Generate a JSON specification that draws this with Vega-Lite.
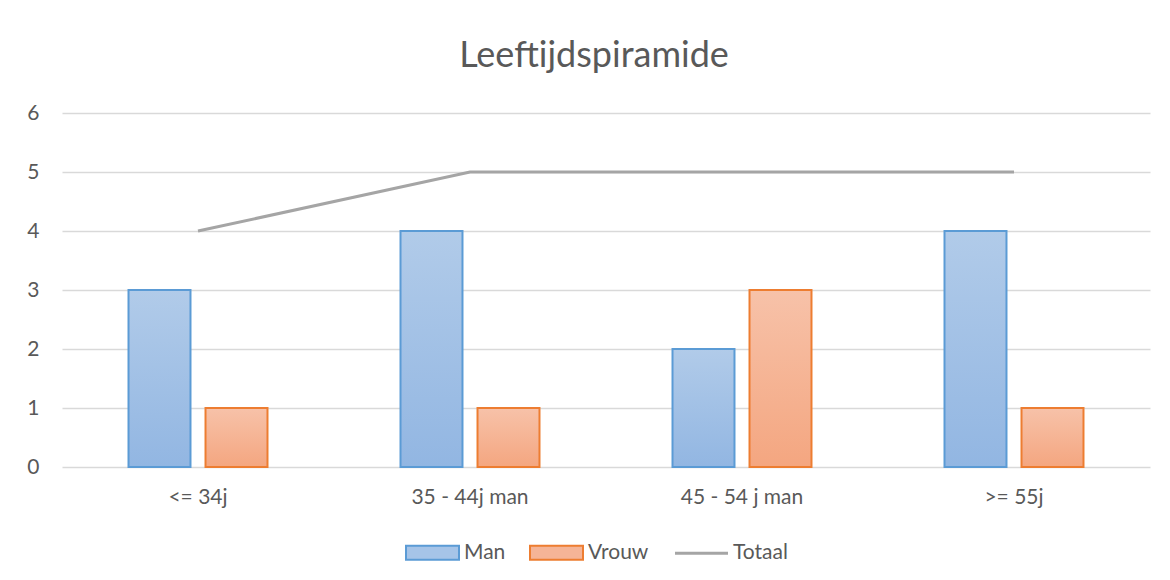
{
  "$schema": "https://vega.github.io/schema/vega-lite/v6.json",
  "width": 1088,
  "height": 354,
  "autosize": {"type": "none"},
  "padding": {"left": 62, "top": 113, "right": 20, "bottom": 113},
  "background": "white",
  "config": {"view": {"stroke": null}, "font": "Lato"},
  "title": {"text": "Leeftijdspiramide", "font": "Lato", "fontSize": 36, "fontWeight": "normal", "color": "#595959", "anchor": "middle", "dx": -12, "offset": 27},
  "data": {"values": [
    {"category": "<= 34j", "series": "Man", "value": 3},
    {"category": "<= 34j", "series": "Vrouw", "value": 1},
    {"category": "<= 34j", "series": "Totaal", "value": 4},
    {"category": "35 - 44j man", "series": "Man", "value": 4},
    {"category": "35 - 44j man", "series": "Vrouw", "value": 1},
    {"category": "35 - 44j man", "series": "Totaal", "value": 5},
    {"category": "45 - 54 j man", "series": "Man", "value": 2},
    {"category": "45 - 54 j man", "series": "Vrouw", "value": 3},
    {"category": "45 - 54 j man", "series": "Totaal", "value": 5},
    {"category": ">= 55j", "series": "Man", "value": 4},
    {"category": ">= 55j", "series": "Vrouw", "value": 1},
    {"category": ">= 55j", "series": "Totaal", "value": 5}
  ]},
  "encoding": {
    "x": {"field": "category", "type": "nominal", "sort": ["<= 34j", "35 - 44j man", "45 - 54 j man", ">= 55j"],
      "scale": {"paddingInner": 0.489, "paddingOuter": 0.2445},
      "axis": {"title": null, "labelAngle": 0, "domain": false, "ticks": false, "labelPadding": 19, "labelFont": "Lato", "labelFontSize": 21, "labelColor": "#595959"}},
    "y": {"field": "value", "type": "quantitative", "scale": {"domain": [0, 6]},
      "axis": {"title": null, "values": [0, 1, 2, 3, 4, 5, 6], "grid": true, "gridColor": "#D9D9D9", "gridWidth": 1.5, "domain": false, "ticks": false, "labelPadding": 23, "labelFont": "Lato", "labelFontSize": 21, "labelColor": "#595959"}},
    "stroke": {"field": "series", "type": "nominal",
      "scale": {"domain": ["Man", "Vrouw", "Totaal"], "range": ["#5B9BD5", "#ED7D31", "#A5A5A5"]},
      "legend": {"title": null, "orient": "none", "legendX": 360, "legendY": 429, "direction": "horizontal",
        "symbolSize": 2809, "labelOffset": 21, "columnPadding": 20, "labelFont": "Lato", "labelFontSize": 21, "labelColor": "#595959",
        "encode": {"symbols": {"update": {
          "shape": {"signal": "datum.value === 'Totaal' ? 'stroke' : 'M-1,-0.264H1V0.264H-1Z'"},
          "fill": {"signal": "datum.value === 'Man' ? '#A6C4E8' : datum.value === 'Vrouw' ? '#F5B497' : 'transparent'"},
          "strokeWidth": {"signal": "datum.value === 'Totaal' ? 3 : 2"},
          "opacity": {"value": 1}
        }}}}}
  },
  "layer": [
    {
      "transform": [{"filter": "datum.series === 'Man'"}],
      "mark": {"type": "bar", "strokeWidth": 2,
        "fill": {"gradient": "linear", "x1": 0, "y1": 0, "x2": 0, "y2": 1, "stops": [{"offset": 0, "color": "#B1CBE9"}, {"offset": 1, "color": "#92B6E2"}]}},
      "encoding": {"xOffset": {"field": "series", "scale": {"domain": ["Man", "Vrouw"], "paddingInner": 0.195, "paddingOuter": 0}}}
    },
    {
      "transform": [{"filter": "datum.series === 'Vrouw'"}],
      "mark": {"type": "bar", "strokeWidth": 2,
        "fill": {"gradient": "linear", "x1": 0, "y1": 0, "x2": 0, "y2": 1, "stops": [{"offset": 0, "color": "#F7C2A9"}, {"offset": 1, "color": "#F4A680"}]}},
      "encoding": {"xOffset": {"field": "series", "scale": {"domain": ["Man", "Vrouw"], "paddingInner": 0.195, "paddingOuter": 0}}}
    },
    {
      "transform": [{"filter": "datum.series === 'Totaal'"}],
      "mark": {"type": "line", "strokeWidth": 3},
      "encoding": {}
    }
  ]
}
